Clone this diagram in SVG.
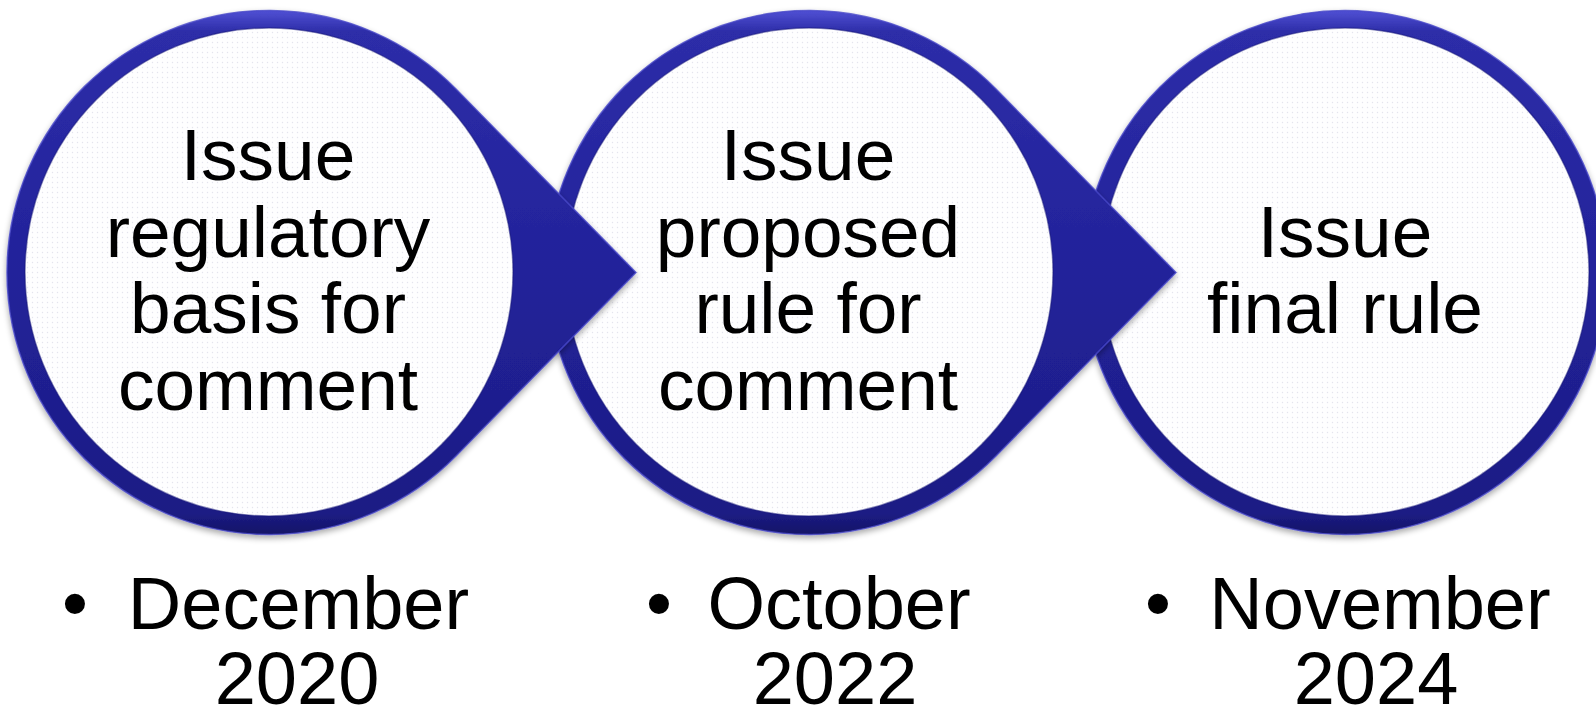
<svg xmlns="http://www.w3.org/2000/svg" width="1596" height="706" viewBox="0 0 1596 706">
  <style>
    .lbl { font-family: "Liberation Sans", Arial, sans-serif; font-size: 73px; fill: #000; text-anchor: middle; }
    .date { font-family: "Liberation Sans", Arial, sans-serif; font-size: 74px; fill: #000; text-anchor: middle; }
    .shape { fill: url(#ringGrad); stroke: #4848c8; stroke-width: 1.5; stroke-opacity: 0.8; filter: url(#shadow); }
    .inner { fill: url(#dots); stroke: #18187a; stroke-width: 1.5; stroke-opacity: 0.5; }
  </style>
  <defs>
    <linearGradient id="ringGrad" x1="0" y1="0" x2="0" y2="1">
      <stop offset="0" stop-color="#5050d4"/>
      <stop offset="0.04" stop-color="#2d2da8"/>
      <stop offset="0.5" stop-color="#22229a"/>
      <stop offset="0.96" stop-color="#1c1c84"/>
      <stop offset="1" stop-color="#141466"/>
    </linearGradient>
    <pattern id="dots" width="5" height="5" patternUnits="userSpaceOnUse">
      <rect width="5" height="5" fill="#fefeff"/>
      <circle cx="2.5" cy="2.5" r="0.7" fill="#e4e4ee"/>
    </pattern>
    <filter id="shadow" x="-10%" y="-10%" width="120%" height="120%">
      <feGaussianBlur in="SourceAlpha" stdDeviation="3"/>
      <feOffset dy="3" result="b"/>
      <feComponentTransfer><feFuncA type="linear" slope="0.35"/></feComponentTransfer>
      <feMerge><feMergeNode/><feMergeNode in="SourceGraphic"/></feMerge>
    </filter>
  </defs>

  <g id="connectors"></g>

  <g id="node3">
    <circle class="shape" cx="1345" cy="272.5" r="262"/>
    <circle class="inner" cx="1345" cy="272" r="244"/>
    <text class="lbl" x="1345" y="256.5">Issue</text>
    <text class="lbl" x="1345" y="333.3">final rule</text>
  </g>

  <g id="node2">
    <path class="shape" d="M996,89 L1176,272.5 L996,456 A262,262 0 1 1 996,89 Z"/>
    <circle class="inner" cx="809" cy="272" r="244"/>
    <text class="lbl" x="808" y="180">Issue</text>
    <text class="lbl" x="808" y="256.5">proposed</text>
    <text class="lbl" x="808" y="333.3">rule for</text>
    <text class="lbl" x="808" y="410.3">comment</text>
  </g>

  <g id="node1">
    <path class="shape" d="M456,89 L636,272.5 L456,456 A262,262 0 1 1 456,89 Z"/>
    <circle class="inner" cx="269" cy="272" r="244"/>
    <text class="lbl" x="268" y="180">Issue</text>
    <text class="lbl" x="268" y="256.5">regulatory</text>
    <text class="lbl" x="268" y="333.3">basis for</text>
    <text class="lbl" x="268" y="410.3">comment</text>
  </g>

  <g id="dates">
    <text class="date" x="75" y="629">•</text>
    <text class="date" x="298.5" y="629">December</text>
    <text class="date" x="297" y="704">2020</text>
    <text class="date" x="659" y="629">•</text>
    <text class="date" x="839" y="629">October</text>
    <text class="date" x="835" y="704">2022</text>
    <text class="date" x="1158" y="629">•</text>
    <text class="date" x="1380" y="629">November</text>
    <text class="date" x="1376" y="704">2024</text>
  </g>
</svg>
